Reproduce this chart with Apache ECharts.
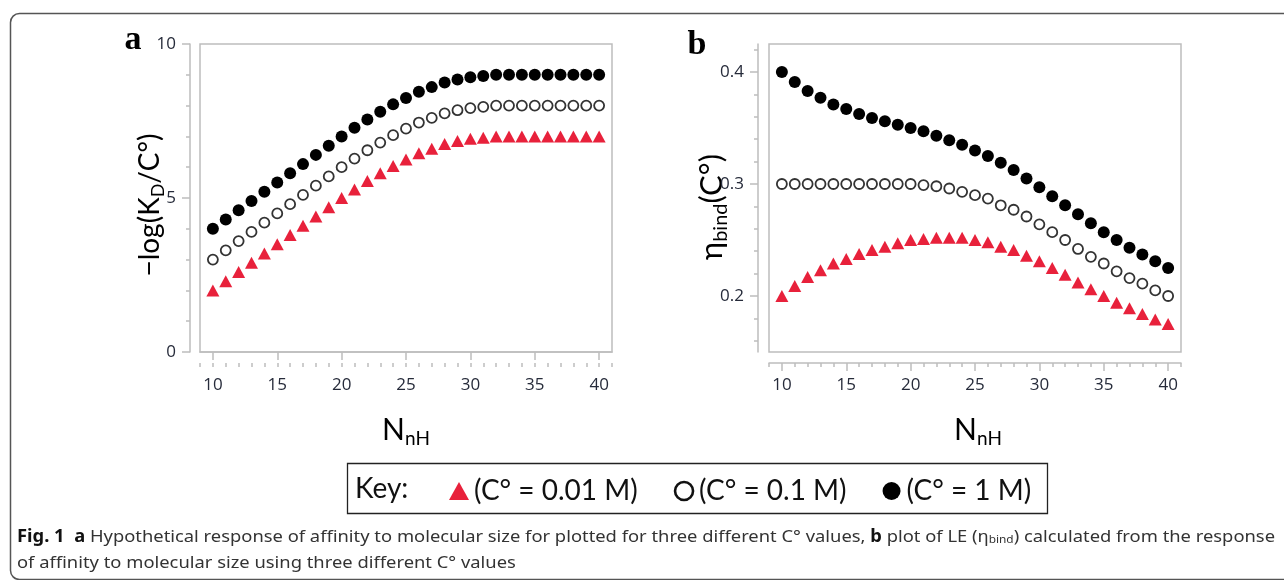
<!DOCTYPE html>
<html>
<head>
<meta charset="utf-8">
<script src="https://cdn.jsdelivr.net/npm/echarts@6/dist/echarts.min.js"></script>
<style>
html,body{margin:0;padding:0;background:#fff;}
#chart{width:1284px;height:580px;}
</style>
</head>
<body>
<div id="chart"></div>
<script>
// ---- data ----
const nH = [10,11,12,13,14,15,16,17,18,19,20,21,22,23,24,25,26,27,28,29,30,31,32,33,34,35,36,37,38,39,40];
const seriesNames = ['(C° = 0.01 M)', '(C° = 0.1 M)', '(C° = 1 M)'];
// panel a: -log(KD/C°)
const pK_001 = [2.0,2.3,2.6,2.9,3.2,3.5,3.8,4.1,4.4,4.7,5.0,5.28,5.55,5.8,6.04,6.25,6.45,6.6,6.75,6.85,6.92,6.96,7.0,7.0,7.0,7.0,7.0,7.0,7.0,7.0,7.0];
const pK_01  = [3.0,3.3,3.6,3.9,4.2,4.5,4.8,5.1,5.4,5.7,6.0,6.28,6.55,6.8,7.04,7.25,7.45,7.6,7.75,7.85,7.92,7.96,8.0,8.0,8.0,8.0,8.0,8.0,8.0,8.0,8.0];
const pK_1   = [4.0,4.3,4.6,4.9,5.2,5.5,5.8,6.1,6.4,6.7,7.0,7.28,7.55,7.8,8.04,8.25,8.45,8.6,8.75,8.85,8.92,8.96,9.0,9.0,9.0,9.0,9.0,9.0,9.0,9.0,9.0];
// panel b: eta_bind(C°)
const eta_001 = [0.200,0.209,0.217,0.223,0.229,0.233,0.2375,0.241,0.244,0.247,0.250,0.251,0.252,0.252,0.252,0.250,0.248,0.244,0.241,0.236,0.231,0.225,0.219,0.212,0.206,0.200,0.194,0.189,0.184,0.179,0.175];
const eta_01  = [0.300,0.300,0.300,0.300,0.300,0.300,0.300,0.300,0.300,0.300,0.300,0.299,0.298,0.296,0.293,0.290,0.287,0.281,0.277,0.271,0.264,0.257,0.250,0.242,0.235,0.229,0.222,0.216,0.211,0.205,0.200];
const eta_1   = [0.400,0.391,0.383,0.377,0.371,0.367,0.3625,0.359,0.356,0.353,0.350,0.347,0.343,0.339,0.335,0.330,0.325,0.319,0.3125,0.305,0.297,0.289,0.281,0.273,0.265,0.257,0.250,0.243,0.237,0.231,0.225];
// tick labels
const xMajorTicks = [10,15,20,25,30,35,40];
const xMinorTicks = [9,10,11,12,13,14,15,16,17,18,19,20,21,22,23,24,25,26,27,28,29,30,31,32,33,34,35,36,37,38,39,40,41];
const yBMajorTicks = [0.2,0.3,0.4];
const yBMinorTicks = [0.16,0.18,0.22,0.24,0.26,0.28,0.32,0.34,0.36,0.38,0.42];
// caption text
const capBold1 = 'Fig. 1';
const capA = 'a';
const capText1 = ' Hypothetical response of affinity to molecular size for plotted for three different C° values, ';
const capB = 'b';
const capText2 = ' plot of LE (η';
const capSub = 'bind';
const capText3 = ') calculated from the response';
const capLine2 = 'of affinity to molecular size using three different C° values';

// ---- styles ----
const RED = '#e8213b';
const AX = '#bdbdbd';
const LBL = '#262b3a';
const TICKFONT = 'Open Sans';
const NAMEFONT = 'Lato';
const CAPFONT = 'Noto Sans';
const CAPSIZE = 17;

const pairs = (ys) => nH.map((x, i) => [x, ys[i]]);

// caption horizontal compression to fit the line width
const mctx = document.createElement('canvas').getContext('2d');
function mw(t, f) { mctx.font = f; return mctx.measureText(t).width; }
const capW = mw(capBold1 + '  ' + capA, 'bold ' + CAPSIZE + 'px "' + CAPFONT + '"')
  + mw(capText1 + capText2 + capText3, CAPSIZE + 'px "' + CAPFONT + '"')
  + mw(capB, 'bold ' + CAPSIZE + 'px "' + CAPFONT + '"')
  + mw(capSub, '11px "' + CAPFONT + '"');
const capScale = 1258 / capW;

function xAxes(gridIndex) {
  return [
    { type:'value', gridIndex, min:9, max:41, offset:11, position:'bottom',
      axisLine:{show:true, lineStyle:{color:AX, width:1.5}},
      axisTick:{show:true, customValues:xMajorTicks, length:8, lineStyle:{color:AX, width:1.5}},
      axisLabel:{customValues:xMajorTicks, margin:14, color:LBL, fontSize:17, fontFamily:TICKFONT},
      splitLine:{show:false} },
    { type:'value', gridIndex, min:9, max:41, offset:11, position:'bottom',
      axisLine:{show:false},
      axisTick:{show:true, customValues:xMinorTicks, length:4, lineStyle:{color:AX, width:1.5}},
      axisLabel:{show:false},
      splitLine:{show:false} }
  ];
}

const scat = (name, xi, yi, data, kind) => {
  const base = { name, type:'scatter', xAxisIndex:xi, yAxisIndex:yi, data, animation:false, z: kind==='tri'?3:2,
                 emphasis:{disabled:true} };
  if (kind === 'tri') return Object.assign(base, { symbol:'triangle', symbolSize:[13,12], itemStyle:{color:RED, opacity:1} });
  if (kind === 'open') return Object.assign(base, { symbol:'circle', symbolSize:10, itemStyle:{color:'#fff', borderColor:'#333', borderWidth:1.8, opacity:1} });
  return Object.assign(base, { symbol:'circle', symbolSize:12, itemStyle:{color:'#000', opacity:1} });
};

const nameRich = (m, s) => ({
  m:{fontSize:m, fontFamily:NAMEFONT, fill:'#000', lineHeight:m+6, verticalAlign:'middle'},
  s:{fontSize:s, fontFamily:NAMEFONT, fill:'#000', lineHeight:s, verticalAlign:'bottom'}
});

const chart = echarts.init(document.getElementById('chart'), null, {renderer:'canvas'});
const option = {
  backgroundColor:'#fff',
  animation:false,
  grid:[
    { left:200, top:44, width:412, height:308, show:true, borderColor:AX, borderWidth:1.5, backgroundColor:'#fff' },
    { left:769, top:44, width:412, height:308, show:true, borderColor:AX, borderWidth:1.5, backgroundColor:'#fff' }
  ],
  xAxis: xAxes(0).concat(xAxes(1)),
  yAxis: [
    { type:'value', gridIndex:0, min:0, max:10, interval:5, offset:10, position:'left',
      axisLine:{show:true, lineStyle:{color:AX, width:1.5}},
      axisTick:{show:true, length:8, lineStyle:{color:AX, width:1.5}},
      minorTick:{show:true, splitNumber:5, length:4, lineStyle:{color:AX, width:1.5}},
      axisLabel:{margin:14, color:LBL, fontSize:17, fontFamily:TICKFONT},
      splitLine:{show:false} },
    { type:'value', gridIndex:1, min:0.15, max:0.425, offset:11, position:'left',
      axisLine:{show:true, lineStyle:{color:AX, width:1.5}},
      axisTick:{show:true, customValues:yBMajorTicks, length:8, lineStyle:{color:AX, width:1.5}},
      axisLabel:{customValues:yBMajorTicks, margin:14, color:LBL, fontSize:17, fontFamily:TICKFONT},
      splitLine:{show:false} },
    { type:'value', gridIndex:1, min:0.15, max:0.425, offset:11, position:'left',
      axisLine:{show:false},
      axisTick:{show:true, customValues:yBMinorTicks, length:4, lineStyle:{color:AX, width:1.5}},
      axisLabel:{show:false},
      splitLine:{show:false} }
  ],
  legend: {
    left:444, top:472, itemGap:36, itemWidth:20, itemHeight:18, selectedMode:false,
    data: [
      { name: seriesNames[0] },
      { name: seriesNames[1], itemStyle:{color:'#fff', borderColor:'#111', borderWidth:2.6} },
      { name: seriesNames[2] }
    ],
    textStyle:{fontSize:28, fontFamily:NAMEFONT, color:'#111'}
  },
  series: [
    scat(seriesNames[0], 0, 0, pairs(pK_001), 'tri'),
    scat(seriesNames[1], 0, 0, pairs(pK_01), 'open'),
    scat(seriesNames[2], 0, 0, pairs(pK_1), 'fill'),
    scat(seriesNames[0], 2, 1, pairs(eta_001), 'tri'),
    scat(seriesNames[1], 2, 1, pairs(eta_01), 'open'),
    scat(seriesNames[2], 2, 1, pairs(eta_1), 'fill')
  ],
  graphic: [
    // figure frame
    { type:'rect', z:-1, shape:{x:10.5, y:13.5, width:1300, height:566, r:9}, style:{fill:'none', stroke:'#555', lineWidth:1.5} },
    // panel letters
    { type:'text', x:133, y:40, style:{text:'a', fontFamily:'Liberation Serif', fontWeight:'bold', fontSize:34, fill:'#000', align:'center', verticalAlign:'middle'} },
    { type:'text', x:697, y:45, style:{text:'b', fontFamily:'Liberation Serif', fontWeight:'bold', fontSize:34, fill:'#000', align:'center', verticalAlign:'middle'} },
    // y axis names
    { type:'text', x:150, y:205, rotation:Math.PI/2,
      style:{ text:'{m|−log(K}{s|D}{m|/C°)}', align:'center', verticalAlign:'middle', rich:nameRich(28, 18) } },
    { type:'text', x:712, y:207, rotation:Math.PI/2,
      style:{ text:'{m|η}{s|bind}{m|(C°)}', align:'center', verticalAlign:'middle', rich:nameRich(31, 20) } },
    // x axis names
    { type:'text', x:406, y:430,
      style:{ text:'{m|N}{s|nH}', align:'center', verticalAlign:'middle', rich:nameRich(30, 19) } },
    { type:'text', x:978, y:430,
      style:{ text:'{m|N}{s|nH}', align:'center', verticalAlign:'middle', rich:nameRich(30, 19) } },
    // legend box and "Key:"
    { type:'rect', shape:{x:347.5, y:463.5, width:700, height:50}, style:{fill:'none', stroke:'#222', lineWidth:1.3} },
    { type:'text', x:355, y:489, style:{text:'Key:', fontFamily:NAMEFONT, fontSize:28, fill:'#111', align:'left', verticalAlign:'middle'} },
    // caption
    { type:'text', x:17, y:537, scaleX:capScale,
      style:{ text:'{b|' + capBold1 + '}  {b|' + capA + '}' + capText1 + '{b|' + capB + '}' + capText2 + '{s|' + capSub + '}' + capText3,
        fontFamily:CAPFONT, fontSize:CAPSIZE, fill:'#333', align:'left', verticalAlign:'middle',
        rich:{ b:{fontWeight:'bold', fontFamily:CAPFONT, fontSize:CAPSIZE, fill:'#111'},
               s:{fontFamily:CAPFONT, fontSize:11, fill:'#333', verticalAlign:'bottom', lineHeight:11} } } },
    { type:'text', x:17, y:563, scaleX:capScale,
      style:{ text:capLine2, fontFamily:CAPFONT, fontSize:CAPSIZE, fill:'#333', align:'left', verticalAlign:'middle' } }
  ]
};
chart.setOption(option);
</script>
</body>
</html>
